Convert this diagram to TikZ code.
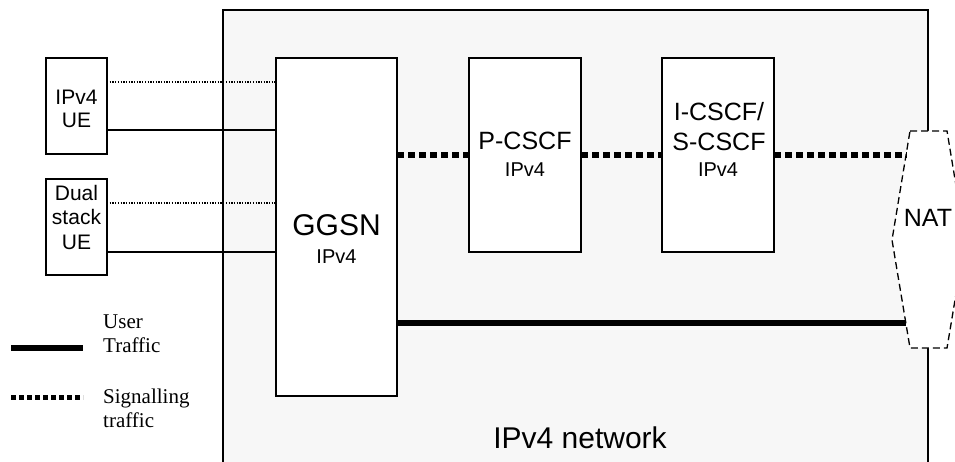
\documentclass[tikz,border=0pt]{standalone}
\usepackage{fontspec}
\setmainfont{Liberation Serif}
\newfontfamily\arialf{Liberation Sans}
\usetikzlibrary{calc}
\definecolor{netgray}{HTML}{F7F7F7}
\newcommand{\fs}[2]{\fontsize{#1}{#2}\selectfont}
\begin{document}
\begin{tikzpicture}[x=1pt,y=-1pt,
  box/.style={draw=black, line width=1.6pt, fill=white, rectangle, inner sep=0pt, outer sep=0pt, anchor=north west},
  lbl/.style={inner sep=0pt, text=black},
  thinsig/.style={line width=1.1pt, dash pattern=on 1.3pt off 1.4pt},
  thinusr/.style={line width=1.3pt},
  sigthick/.style={line width=6pt, dash pattern=on 6.5pt off 4.5pt},
  sigleg/.style={line width=5pt, dash pattern=on 5pt off 3pt},
  usr/.style={line width=6.5pt},
  netline/.style={line width=1.5pt},
  natline/.style={line width=1.3pt, dash pattern=on 7pt off 4pt, fill=white}]
\clip (0,0) rectangle (955,462);
% network area
\coordinate (nwTL) at (223,10);
\coordinate (nwTR) at (928,10);
\coordinate (nwBL) at (223,470);
\coordinate (nwBR) at (928,470);
\fill[netgray] (nwTL) rectangle (nwBR);
% NAT hexagon
\coordinate (h1) at (910,131);
\coordinate (h2) at (947,131);
\coordinate (h3) at (965,240);
\coordinate (h4) at (947,348);
\coordinate (h5) at (910,348);
\coordinate (h6) at (892,240);
\coordinate (natTop) at (928,131);
\coordinate (natBot) at (928,348);
\draw[netline] (nwBL) -- (nwTL) -- (nwTR) -- (natTop);
\draw[netline] (natBot) -- (nwBR);
\filldraw[natline] (h1) -- (h2) -- (h3) -- (h4) -- (h5) -- (h6) -- cycle;
\node[lbl, anchor=base, font=\arialf\fs{25}{30}] (nat) at (928,227) {NAT};
\coordinate (natS) at ($(h6)!0.78!(h1)$);
\coordinate (natU) at ($(h6)!0.77!(h5)$);
\node[lbl, anchor=base, font=\arialf\fs{30}{36}] (netlbl) at (580,448) {IPv4 network};
% boxes
\node[box, minimum width=61pt, minimum height=96pt] (ue1) at (46,58) {};
\node[box, minimum width=61pt, minimum height=96pt] (ue2) at (46,179) {};
\node[box, minimum width=121pt, minimum height=338pt] (ggsn) at (276,58) {};
\node[box, minimum width=112pt, minimum height=194pt] (pcscf) at (469,58) {};
\node[box, minimum width=112pt, minimum height=194pt] (icscf) at (662,58) {};
% box texts
\node[lbl, align=center, font=\arialf\fs{21}{23}] (ue1t) at (76.5,109) {IPv4\\UE};
\node[lbl, align=center, font=\arialf\fs{21}{24.5}] (ue2t) at (76.5,217) {Dual\\stack\\UE};
\node[lbl, anchor=base, font=\arialf\fs{30}{36}] (ggsnt) at (336.5,236) {GGSN};
\node[lbl, anchor=base, font=\arialf\fs{20}{24}] (ggsnv) at (336.5,263) {IPv4};
\node[lbl, anchor=base, font=\arialf\fs{25}{30}] (pcscft) at (525,150) {P-CSCF};
\node[lbl, anchor=base, font=\arialf\fs{20}{24}] (pcscfv) at (525,177) {IPv4};
\node[lbl, align=center, font=\arialf\fs{25}{30}] (icscft) at (719,127) {I-CSCF/\\S-CSCF};
\node[lbl, anchor=base, font=\arialf\fs{20}{24}] (icscfv) at (718,177) {IPv4};
% UE connections
\coordinate (u1s) at ($(ue1.north east)!0.25!(ue1.south east)$);
\coordinate (u1u) at ($(ue1.north east)!0.75!(ue1.south east)$);
\coordinate (u2s) at ($(ue2.north east)!0.25!(ue2.south east)$);
\coordinate (u2u) at ($(ue2.north east)!0.76!(ue2.south east)$);
\draw[thinsig] (u1s) -- (u1s -| ggsn.west);
\draw[thinusr] (u1u) -- (u1u -| ggsn.west);
\draw[thinsig] (u2s) -- (u2s -| ggsn.west);
\draw[thinusr] (u2u) -- (u2u -| ggsn.west);
% signalling
\draw[sigthick] (natS -| ggsn.east) -- (natS -| pcscf.west);
\draw[sigthick] (natS -| pcscf.east) -- (natS -| icscf.west);
\draw[sigthick] (natS -| icscf.east) -- (natS);
% user traffic
\draw[usr] (natU -| ggsn.east) -- (natU);
% legend
\coordinate (lgU1) at (11,348);
\coordinate (lgU2) at (83,348);
\coordinate (lgS1) at (11,397);
\coordinate (lgS2) at (83,397);
\draw[usr] (lgU1) -- (lgU2);
\draw[sigleg] (lgS1) -- (lgS2);
\node[lbl, anchor=west, align=left, font=\fs{21}{24}] (lgUT) at (103,334) {User\\Traffic};
\node[lbl, anchor=west, align=left, font=\fs{21}{24}] (lgST) at (103,408) {Signalling\\traffic};
\end{tikzpicture}
\end{document}
